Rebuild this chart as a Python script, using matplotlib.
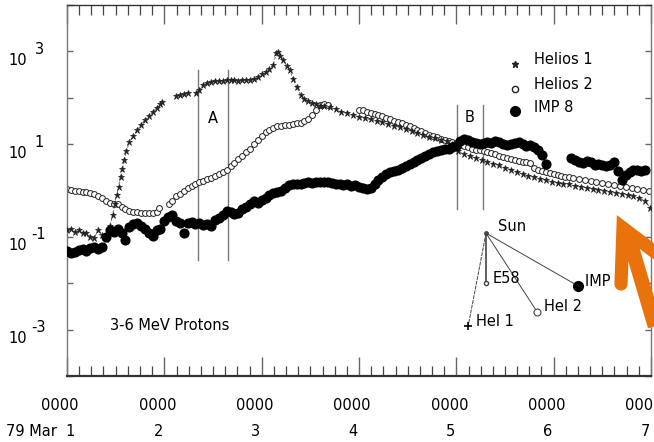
import numpy as np
import matplotlib.pyplot as plt
from matplotlib.lines import Line2D

plt.rcParams['font.family'] = ['DejaVu Sans']

# ---- data (time in days of March 1979, flux) ----
h1_t = [1.00, 1.04, 1.08, 1.12, 1.16, 1.20, 1.24, 1.28, 1.32, 1.36, 1.40, 1.44,
        1.47, 1.49, 1.51, 1.53, 1.55, 1.57, 1.59, 1.61, 1.64, 1.68, 1.72, 1.76,
        1.80, 1.84, 1.88, 1.92, 1.96, 1.98,
        np.nan,
        2.12, 2.16, 2.20, 2.24,
        np.nan,
        2.33, 2.36, 2.40, 2.44, 2.48, 2.52, 2.56, 2.60, 2.64, 2.68, 2.72, 2.76,
        2.80, 2.84, 2.88, 2.92, 2.96, 3.00, 3.04, 3.08, 3.12, 3.15, 3.17, 3.19,
        3.22, 3.26, 3.29, 3.32, 3.36, 3.40, 3.44, 3.48, 3.52, 3.56, 3.60, 3.64,
        3.70, 3.76, 3.82, 3.88, 3.94, 4.00, 4.06, 4.12, 4.18, 4.24, 4.30, 4.36,
        4.42, 4.48, 4.54, 4.60, 4.66, 4.72, 4.78, 4.84, 4.90, 4.96, 5.02, 5.08,
        5.14, 5.20, 5.26, 5.32, 5.38, 5.44, 5.50, 5.56, 5.62, 5.68, 5.74, 5.80,
        5.86, 5.92, 5.98, 6.04, 6.10, 6.16, 6.22, 6.28, 6.34, 6.40, 6.46, 6.52,
        6.58, 6.64, 6.70, 6.76, 6.82, 6.88, 6.94, 6.99]
h1_f = [0.14, 0.15, 0.13, 0.14, 0.12, 0.12, 0.10, 0.095, 0.14, 0.11, 0.09, 0.17,
        0.30, 0.52, 0.8, 1.2, 2.0, 2.9, 4.5, 7.0, 11, 15, 20, 26,
        33, 40, 50, 60, 72, 80,
        np.nan,
        110, 115, 120, 125,
        np.nan,
        125, 150, 185, 205, 215, 225, 230, 235, 240, 240, 240, 235,
        238, 240, 242, 250, 280, 320, 360, 420, 520, 900, 960, 800,
        650, 480, 390, 260, 170, 115, 95, 85, 76, 72, 68, 65,
        62, 56, 50, 46, 42, 39, 36, 34, 32, 30, 27, 25,
        23, 21, 19, 17, 16, 14.5, 13.5, 12.5, 11.5, 10, 7.0, 6.0,
        5.5, 5.0, 4.6, 4.2, 3.8, 3.5, 3.1, 2.8, 2.5, 2.3, 2.1, 1.95,
        1.8, 1.65, 1.55, 1.45, 1.40, 1.35, 1.25, 1.20, 1.15, 1.10, 1.05, 1.0,
        0.95, 0.90, 0.85, 0.80, 0.75, 0.68, 0.60, 0.42]

h2_t = [1.00, 1.04, 1.08, 1.12, 1.16, 1.20, 1.24, 1.28, 1.32, 1.36, 1.40, 1.44,
        1.48, 1.52, 1.56, 1.60, 1.64, 1.68, 1.72, 1.76, 1.80, 1.84, 1.88, 1.92,
        1.95,
        2.05, 2.08, 2.12, 2.16, 2.20, 2.24, 2.28, 2.32, 2.36, 2.40, 2.44, 2.48,
        2.52, 2.56, 2.60, 2.64, 2.68, 2.72, 2.76, 2.80, 2.84, 2.88, 2.92, 2.96,
        3.00, 3.04, 3.08, 3.12, 3.16, 3.20, 3.24, 3.28, 3.32, 3.36, 3.40, 3.44,
        3.48, 3.52, 3.56, 3.60, 3.64, 3.68,
        4.00, 4.04, 4.08, 4.12, 4.16, 4.20, 4.24, 4.28, 4.32, 4.36, 4.40, 4.44,
        4.48, 4.52, 4.56, 4.60, 4.64, 4.68, 4.72, 4.76, 4.80, 4.84, 4.88, 4.92,
        4.96, 5.00, 5.04, 5.08, 5.12, 5.16, 5.20, 5.24, 5.28, 5.32, 5.36, 5.40,
        5.44, 5.48, 5.52, 5.56, 5.60, 5.64, 5.68, 5.72, 5.76, 5.80, 5.84, 5.88,
        5.92, 5.96, 6.00, 6.04, 6.08, 6.12, 6.16, 6.20, 6.26, 6.32, 6.38, 6.44,
        6.50, 6.56, 6.62, 6.68, 6.74, 6.80, 6.86, 6.92, 6.98]
h2_f = [1.10, 1.05, 1.0, 1.0, 0.95, 0.92, 0.88, 0.85, 0.75, 0.68, 0.60, 0.55,
        0.52, 0.50, 0.45, 0.40, 0.37, 0.35, 0.34, 0.33, 0.33, 0.32, 0.33, 0.34,
        0.41,
        0.52, 0.60, 0.75, 0.86, 1.0, 1.15, 1.25, 1.35, 1.5, 1.6, 1.75, 1.9,
        2.1, 2.3, 2.5, 2.8, 3.3, 4.0, 4.8, 5.6, 6.6, 8.0, 10, 12.5,
        15, 18, 20, 22, 24, 25, 26, 26, 27, 28, 29, 31,
        34, 42, 55, 70, 72, 70,
        55, 54, 50, 47, 44, 42, 40, 37, 34, 32, 30, 28,
        26, 24, 22, 20.5, 19, 17.5, 16, 15, 14, 13, 12.5, 11.5,
        11, 10.4, 9.5, 9.0, 8.5, 8.0, 7.6, 7.4, 7.2, 6.7, 6.3, 6.0,
        5.6, 5.3, 5.1, 4.8, 4.6, 4.4, 4.2, 4.1, 4.0, 3.0, 2.7, 2.6,
        2.5, 2.4, 2.3, 2.2, 2.1, 2.0, 1.95, 1.9, 1.8, 1.7, 1.6, 1.55,
        1.45, 1.4, 1.3, 1.25, 1.2, 1.15, 1.1, 1.05, 1.0]

imp_t = [1.00, 1.04, 1.08, 1.12, 1.16, 1.20, 1.24, 1.28, 1.32, 1.36, 1.40, 1.44,
         1.48, 1.52, 1.56, 1.60, 1.64, 1.68, 1.72, 1.76, 1.80, 1.84, 1.88, 1.92,
         1.96, 2.00, 2.04, 2.08, 2.12, 2.16, 2.20, 2.24, 2.28, 2.32, 2.36, 2.40,
         2.44, 2.48, 2.52, 2.56, 2.60, 2.64, 2.68, 2.72, 2.76, 2.80, 2.84, 2.88,
         2.92, 2.96, 3.00, 3.04, 3.08, 3.12, 3.16, 3.20, 3.24, 3.28, 3.32, 3.36,
         3.40, 3.44, 3.48, 3.52, 3.56, 3.60, 3.64, 3.68, 3.72, 3.76, 3.80, 3.84,
         3.88, 3.92, 3.96, 4.00, 4.04, 4.08, 4.12, 4.16, 4.20, 4.24, 4.28, 4.32,
         4.36, 4.40, 4.44, 4.48, 4.52, 4.56, 4.60, 4.64, 4.68, 4.72, 4.76, 4.80,
         4.84, 4.88, 4.92, 4.96, 5.00, 5.04, 5.08, 5.12, 5.16, 5.20, 5.24, 5.28,
         5.32, 5.36, 5.40, 5.44, 5.48, 5.52, 5.56, 5.60, 5.64, 5.68, 5.72, 5.76,
         5.80, 5.84, 5.88, 5.92,
         6.18, 6.22, 6.26, 6.30, 6.34, 6.38, 6.42, 6.46, 6.50, 6.54, 6.58, 6.62,
         6.66, 6.70, 6.74, 6.78, 6.82, 6.86, 6.90, 6.94]
imp_f = [0.050, 0.045, 0.048, 0.052, 0.056, 0.050, 0.058, 0.060, 0.055, 0.062, 0.10, 0.14,
         0.13, 0.15, 0.12, 0.085, 0.16, 0.19, 0.20, 0.17, 0.15, 0.12, 0.107, 0.14,
         0.15, 0.22, 0.27, 0.29, 0.22, 0.20, 0.12, 0.20, 0.21, 0.19, 0.20, 0.18,
         0.19, 0.17, 0.23, 0.26, 0.30, 0.36, 0.34, 0.31, 0.33, 0.40, 0.44, 0.52,
         0.60, 0.55, 0.62, 0.70, 0.80, 0.88, 0.92, 1.0, 1.15, 1.30, 1.35, 1.40,
         1.38, 1.45, 1.50, 1.48, 1.52, 1.50, 1.55, 1.50, 1.45, 1.40, 1.35, 1.30,
         1.35, 1.28, 1.30, 1.20, 1.15, 1.10, 1.12, 1.40, 1.70, 2.0, 2.3, 2.5,
         2.6, 2.7, 3.0, 3.4, 3.8, 4.2, 4.6, 5.0, 5.5, 6.2, 6.6, 7.0,
         7.4, 7.8, 8.0, 8.5, 9.0, 11.5, 13.0, 12.0, 11.0, 10.5, 10.0, 10.4,
         11.0, 10.5, 11.5, 11.0, 10.0, 9.5, 10.0, 10.5, 11.0, 10.0, 9.0, 9.5,
         8.5, 7.5, 5.8, 3.8,
         4.9, 4.5, 4.2, 4.0, 4.3, 4.1, 3.6, 3.8, 3.5, 3.3, 3.6, 4.1,
         2.6, 1.7, 2.2, 2.5, 2.8, 2.7, 2.6, 2.7]

days = [1, 2, 3, 4, 5, 6, 7]
day_labels = ['79 Mar  1', '2', '3', '4', '5', '6', '7']
y_label_exp = [3, 1, -1, -3]

# spacecraft positions in the small sketch (axes fraction)
sketch_names = ['E58', 'IMP 8', 'Hel 2', 'Hel 1']
sketch_x = [0.7175, 0.875, 0.805, 0.687]
sketch_y = [0.251, 0.243, 0.173, 0.135]
sun_xy = (0.7175, 0.385)

fig = plt.figure(figsize=(6.54, 4.42), dpi=100)
ax = fig.add_axes([67 / 654, 1 - 376 / 442, 584 / 654, 371 / 442])

ink = '#222222'
ax.plot(h1_t, h1_f, ls=(0, (3, 2)), lw=0.6, color='#555555', marker='*',
        ms=4.5, mfc=ink, mec=ink, mew=0.5, zorder=3)
ax.plot(h2_t, h2_f, ls='none', marker='o', ms=4.2, mfc='white', mec=ink,
        mew=0.7, zorder=2)
ax.plot(imp_t, imp_f, ls='none', marker='o', ms=6.3, mfc='black', mec='black',
        zorder=4)

ax.set_yscale('log')
ax.set_xlim(1, 7)
ax.set_ylim(1e-4, 1e4)

# event markers A and B
for x in (2.346, 2.654):
    ax.plot([x, x], [0.031, 390], color='#777777', lw=1, zorder=1)
for x in (5.007, 5.274):
    ax.plot([x, x], [0.39, 69], color='#777777', lw=1, zorder=1)
ax.text(2.50, 36, 'A', fontsize=10.5, ha='center', va='center')
ax.text(5.14, 38, 'B', fontsize=10.5, ha='center', va='center')

# ticks
ax.set_xticks(days)
ax.set_xticks(np.arange(1, 7.01, 0.125), minor=True)
ax.tick_params(axis='x', which='major', direction='in', length=14, width=1,
               top=True, bottom=True, labelbottom=False, color='#666666')
ax.tick_params(axis='x', which='minor', direction='in', length=7, width=0.9,
               top=True, bottom=True, color='#444444')
ax.set_yticks([10.0 ** k for k in range(-4, 5)])
ax.yaxis.set_minor_locator(plt.NullLocator())
ax.tick_params(axis='y', which='major', direction='in', length=4, width=1,
               left=True, right=True, labelleft=False, color='#666666')

for s in ('left', 'top', 'right'):
    ax.spines[s].set_color('#777777')
    ax.spines[s].set_linewidth(1)
ax.spines['top'].set_color('#333333')
ax.spines['bottom'].set_color('#333333')
ax.spines['bottom'].set_linewidth(1.6)

# y labels "10 ^n"
for k in y_label_exp:
    ax.annotate('10', xy=(0, 10.0 ** k), xycoords=('axes fraction', 'data'),
                xytext=(-49, -9), textcoords='offset pixels',
                ha='center', va='center', fontsize=10.5)
    ax.annotate(str(k), xy=(0, 10.0 ** k), xycoords=('axes fraction', 'data'),
                xytext=(-28, 2), textcoords='offset pixels',
                ha='center', va='center', fontsize=10.5)

# x labels
for d, lab in zip(days, day_labels):
    ax.annotate('0000', xy=(d, 0), xycoords=('data', 'axes fraction'),
                xytext=(-7, -29), textcoords='offset pixels',
                ha='center', va='center', fontsize=10.5, annotation_clip=False)
    if d == 1:
        ax.annotate(lab, xy=(d, 0), xycoords=('data', 'axes fraction'),
                    xytext=(-61, -56), textcoords='offset pixels',
                    ha='left', va='center', fontsize=10.5, annotation_clip=False)
    else:
        ax.annotate(lab, xy=(d, 0), xycoords=('data', 'axes fraction'),
                    xytext=(-6, -56), textcoords='offset pixels',
                    ha='center', va='center', fontsize=10.5, annotation_clip=False)

# legend, drawn by hand
leg_names = ['Helios 1', 'Helios 2', 'IMP 8']
leg_y = [0.852, 0.785, 0.725]
leg_style = [dict(marker='*', ms=5, mfc=ink, mec=ink),
             dict(marker='o', ms=4.5, mfc='white', mec=ink),
             dict(marker='o', ms=7, mfc='black', mec='black')]
for name, yy, st in zip(leg_names, leg_y, leg_style):
    ax.plot([0.767], [yy - 0.012], transform=ax.transAxes, ls='none', **st)
    ax.text(0.800, yy, name, transform=ax.transAxes, fontsize=10.5,
            ha='left', va='center')

ax.text(0.0736, 0.137, '3-6 MeV Protons', transform=ax.transAxes,
        fontsize=10.5, ha='left', va='center')

# sketch of spacecraft positions
for name, sx, sy in zip(sketch_names, sketch_x, sketch_y):
    lw = 1.2 if name == 'E58' else 0.7
    ls = (0, (4, 1)) if name == 'Hel 1' else '-'
    ax.plot([sun_xy[0], sx], [sun_xy[1], sy], transform=ax.transAxes,
            color='#444444', lw=lw, ls=ls)
ax.plot([sun_xy[0]], [sun_xy[1]], transform=ax.transAxes, marker='o', ms=2.5,
        color='#444444')
ax.plot([sketch_x[0]], [sketch_y[0]], transform=ax.transAxes, marker='o',
        ms=3, mfc='white', mec='#444444')
ax.plot([sketch_x[1]], [sketch_y[1]], transform=ax.transAxes, marker='o',
        ms=7, color='black')
ax.plot([sketch_x[2]], [sketch_y[2]], transform=ax.transAxes, marker='o',
        ms=5, mfc='white', mec='#444444', mew=0.8)
ax.plot([sketch_x[3]], [sketch_y[3]], transform=ax.transAxes, marker='+',
        ms=6, mew=1.2, color='black')
ax.text(0.738, 0.402, 'Sun', transform=ax.transAxes, fontsize=10.5, va='center')
ax.text(0.729, 0.262, 'E58', transform=ax.transAxes, fontsize=10.5, va='center')
ax.text(0.887, 0.256, 'IMP 8', transform=ax.transAxes, fontsize=10.5, va='center')
ax.text(0.817, 0.186, 'Hel 2', transform=ax.transAxes, fontsize=10.5, va='center')
ax.text(0.700, 0.146, 'Hel 1', transform=ax.transAxes, fontsize=10.5, va='center')

# orange arrow drawn over the figure
def fp(x, y):
    return x / 654, 1 - y / 442

orange = '#E8720C'
wing = [fp(621, 284), fp(623, 228), fp(660, 256)]
fig.add_artist(Line2D([p[0] for p in wing], [p[1] for p in wing],
                      transform=fig.transFigure, color=orange, lw=9.5,
                      solid_joinstyle='miter', solid_capstyle='round'))
shaft = [fp(629, 238), fp(662, 350)]
fig.add_artist(Line2D([p[0] for p in shaft], [p[1] for p in shaft],
                      transform=fig.transFigure, color=orange, lw=10.5,
                      solid_capstyle='butt'))

fig.savefig('out.png', dpi=100)
